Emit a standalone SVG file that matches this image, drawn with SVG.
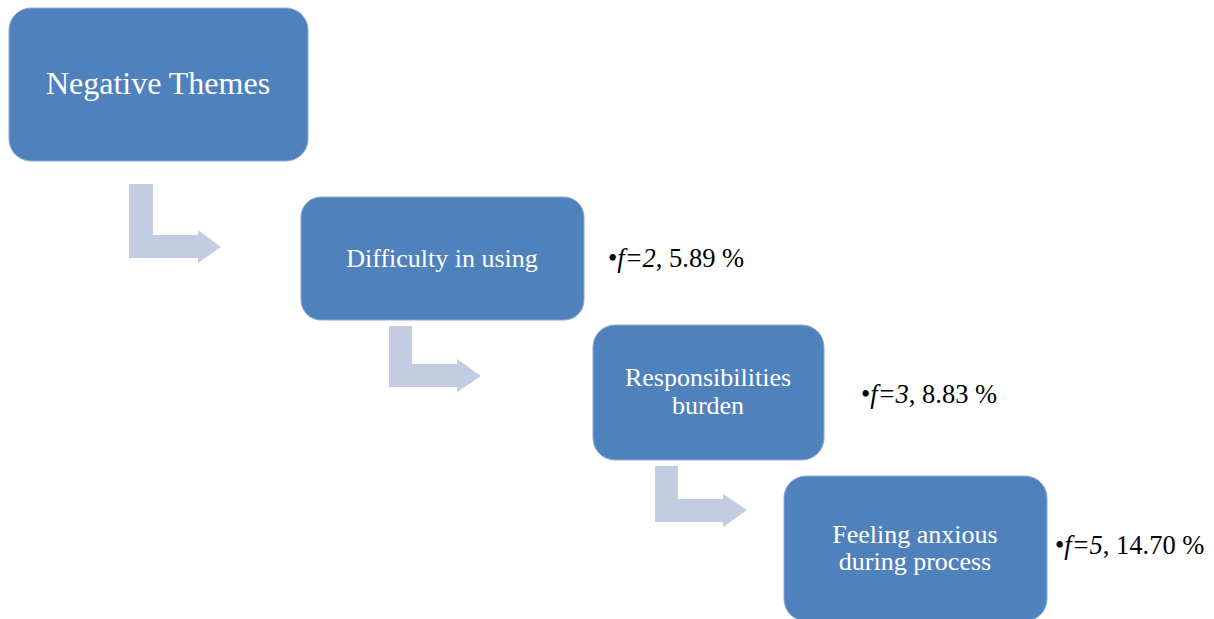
<svg xmlns="http://www.w3.org/2000/svg" width="1214" height="619" viewBox="0 0 1214 619">
  <style>
    .box { fill: #4F81BD; stroke: #8EAAD6; stroke-width: 1; }
    .arrow { fill: #C3CDE1; }
    .bt { font-family: "Liberation Serif", "Times New Roman", serif; fill: #FFFFFF; text-anchor: middle; }
    .lbl { font-family: "Liberation Serif", "Times New Roman", serif; fill: #000000; font-size: 26.5px; }
  </style>
  <rect width="1214" height="619" fill="#FFFFFF"/>
  <g id="connectors">
    <path class="arrow" d="M129,184 H153 V235 H198 V230 L221,247 L198,263 V258 H129 Z"/>
    <path class="arrow" d="M389,326 H412 V364 H457 V359 L481,376 L457,392 V387 H389 Z"/>
    <path class="arrow" d="M655,466 H678 V499 H723 V494 L747,510 L723,527 V522 H655 Z"/>
  </g>
  <g id="node-negative-themes">
    <rect class="box" x="9" y="8" width="299" height="153" rx="22"/>
    <text class="bt" x="158" y="94" font-size="32">Negative Themes</text>
  </g>
  <g id="node-difficulty">
    <rect class="box" x="301" y="197" width="283" height="123" rx="20"/>
    <text class="bt" x="442" y="267" font-size="26">Difficulty in using</text>
  </g>
  <g id="label-difficulty">
    <text class="lbl" x="608" y="267">•<tspan font-style="italic">f=2</tspan>, 5.89 %</text>
  </g>
  <g id="node-responsibilities">
    <rect class="box" x="593" y="325" width="231" height="135" rx="22"/>
    <text class="bt" x="708" y="386" font-size="26">Responsibilities</text>
    <text class="bt" x="708" y="414" font-size="26">burden</text>
  </g>
  <g id="label-responsibilities">
    <text class="lbl" x="861" y="403">•<tspan font-style="italic">f=3</tspan>, 8.83 %</text>
  </g>
  <g id="node-feeling">
    <rect class="box" x="784" y="476" width="263" height="145" rx="22"/>
    <text class="bt" x="915" y="543" font-size="26">Feeling anxious</text>
    <text class="bt" x="915" y="570" font-size="26">during process</text>
  </g>
  <g id="label-feeling">
    <text class="lbl" x="1055" y="554">•<tspan font-style="italic">f=5</tspan>, 14.70 %</text>
  </g>
</svg>
